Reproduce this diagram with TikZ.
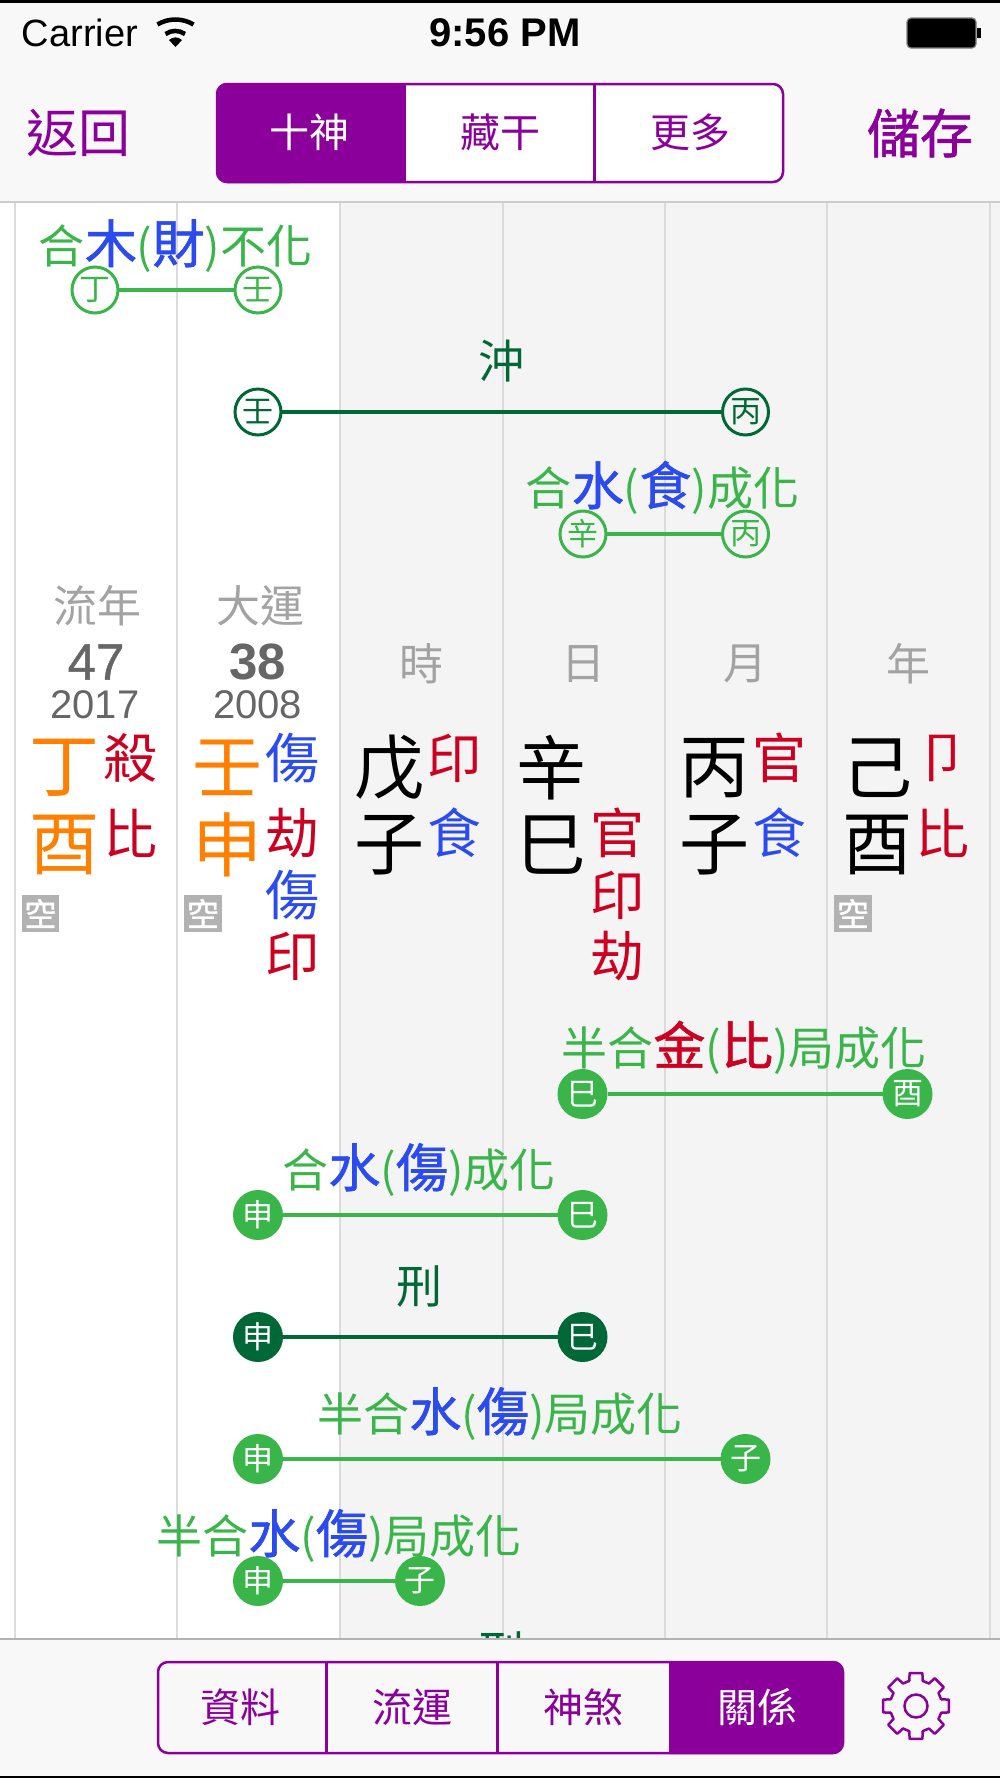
\documentclass[tikz,border=0pt]{standalone}
\usepackage{fontspec}
\setmainfont{Noto Sans CJK TC}
\newfontfamily\heavy[FakeBold=1.2]{Noto Sans CJK TC}
\newfontfamily\latin{Liberation Sans}
\newfontfamily\latinmid[FakeBold=0.9]{Liberation Sans}
\definecolor{purp}{HTML}{8B009B}
\definecolor{grn}{HTML}{39B54A}
\definecolor{dgrn}{HTML}{006837}
\definecolor{blu}{HTML}{2B4BEE}
\definecolor{rd}{HTML}{CC0020}
\definecolor{orng}{HTML}{FF8000}
\definecolor{barbg}{HTML}{F8F8F8}
\definecolor{colbg}{HTML}{F4F4F4}
\newcommand{\bigc}[2]{\textcolor{#1}{\heavy\fontsize{52}{52}\selectfont #2}}
\tikzset{
	every node/.style={inner sep=0pt,outer sep=0pt},
	open/.style={circle,draw=#1,line width=3pt,minimum size=46pt,text=#1,font=\fontsize{31}{31}\selectfont},
	full/.style={circle,fill=#1,minimum size=50pt,text=white,font=\fontsize{31}{31}\selectfont},
	rel/.style={anchor=base,text=#1,font=\fontsize{46}{46}\selectfont},
	link/.style={draw=#1,line width=3.2pt},
	head/.style={text=gray!72,font=\fontsize{44}{44}\selectfont},
	big/.style={text=#1,font=\fontsize{70}{70}\selectfont},
	big/.default=black,
	small/.style={text=#1,font=\fontsize{54}{54}\selectfont},
	kong/.style={fill=black!30,text=white,minimum size=37.5pt,font=\heavy\fontsize{32}{32}\selectfont},
	tabtxt/.style={text=#1,font=\fontsize{40}{40}\selectfont}
}
\begin{document}
\begin{tikzpicture}[x=1.0pt,y=-1.0pt,scale=1]
	\useasboundingbox (0,0) rectangle (1000,1778);
	\fill[white] (0,0) rectangle (1000,1778);
	\fill[colbg] (340,203) rectangle (1000,1640);
	\foreach \x in {15,177,340,502.5,664.5,827,990}
		\draw[black!14,line width=2pt] (\x,203) -- (\x,1640);

	\node[rel=grn] (relA) at (175.5,263) {合\bigc{blu}{木}(\bigc{blu}{財})不化};
	\node[open=grn] (dingA) at (95,290) {丁};
	\node[open=grn] (renA) at (258,290) {壬};
	\draw[link=grn] (dingA) -- (renA);

	\node[rel=dgrn] (relB) at (501,378) {沖};
	\node[open=dgrn] (renB) at (258,412) {壬};
	\node[open=dgrn] (bingB) at (745.5,412) {丙};
	\draw[link=dgrn] (renB) -- (bingB);

	\node[rel=grn] (relC) at (662.5,505) {合\bigc{blu}{水}(\bigc{blu}{食})成化};
	\node[open=grn] (xinC) at (583,534) {辛};
	\node[open=grn] (bingC) at (745.5,534) {丙};
	\draw[link=grn] (xinC) -- (bingC);

	\node[head] (headA) at (97.5,606) {流年};
	\node[head] (headB) at (260,606) {大運};
	\node[head] (headC) at (421,664) {時};
	\node[head] (headD) at (583,664) {日};
	\node[head] (headE) at (745,664) {月};
	\node[head] (headF) at (908,664) {年};
	\node[text=black!60,font=\latinmid\fontsize{51}{51}\selectfont] (ageA) at (96,662) {47};
	\node[text=black!60,font=\latin\bfseries\fontsize{51}{51}\selectfont] (ageB) at (257.5,662) {38};
	\node[text=black!60,font=\latin\fontsize{40}{40}\selectfont] (yearA) at (95,705) {2017};
	\node[text=black!60,font=\latin\fontsize{40}{40}\selectfont] (yearB) at (257.5,705) {2008};

	\node[big=orng] (ganA) at (64,768) {丁};
	\node[big=orng] (zhiA) at (64,845) {酉};
	\node[big=orng] (ganB) at (227,768) {壬};
	\node[big=orng] (zhiB) at (227,845) {申};
	\node[big] (ganC) at (389,768) {戊};
	\node[big] (zhiC) at (389,845) {子};
	\node[big] (ganD) at (551.5,768) {辛};
	\node[big] (zhiD) at (551.5,845) {巳};
	\node[big] (ganE) at (714,768) {丙};
	\node[big] (zhiE) at (714,845) {子};
	\node[big] (ganF) at (877,768) {己};
	\node[big] (zhiF) at (877,845) {酉};

	\node[small=rd] (shenA) at (130,758) {殺};
	\node[small=rd] (cangA) at (130,833) {比};
	\node[small=blu] (shenB) at (292,758) {傷};
	\node[small=rd] (cangB) at (292,833) {劫};
	\node[small=blu] (cangBb) at (292,895) {傷};
	\node[small=rd] (cangBc) at (292,956) {印};
	\node[small=rd] (shenC) at (454,758) {印};
	\node[small=blu] (cangC) at (454,833) {食};
	\node[small=rd] (cangD) at (617,833) {官};
	\node[small=rd] (cangDb) at (617,895) {印};
	\node[small=rd] (cangDc) at (617,956) {劫};
	\node[small=rd] (shenE) at (779,758) {官};
	\node[small=blu] (cangE) at (779,833) {食};
	\node[small=rd] (shenF) at (942,758) {卩};
	\node[small=rd] (cangF) at (942,833) {比};

	\node[kong] (kongA) at (40.5,913.5) {空};
	\node[kong] (kongB) at (203,913.5) {空};
	\node[kong] (kongC) at (853,913.5) {空};

	\node[rel=grn] (relD) at (744,1065) {半合\bigc{rd}{金}(\bigc{rd}{比})局成化};
	\node[full=grn] (siD) at (582.5,1094) {巳};
	\node[full=grn] (youD) at (907.5,1094) {酉};
	\draw[link=grn] (siD) -- (youD);

	\node[rel=grn] (relE) at (419,1187) {合\bigc{blu}{水}(\bigc{blu}{傷})成化};
	\node[full=grn] (shenG) at (258,1215) {申};
	\node[full=grn] (siE) at (582.5,1215) {巳};
	\draw[link=grn] (shenG) -- (siE);

	\node[rel=dgrn] (relF) at (419,1303) {刑};
	\node[full=dgrn] (shenH) at (258,1337) {申};
	\node[full=dgrn] (siF) at (582.5,1337) {巳};
	\draw[link=dgrn] (shenH) -- (siF);

	\node[rel=grn] (relG) at (500,1431) {半合\bigc{blu}{水}(\bigc{blu}{傷})局成化};
	\node[full=grn] (shenJ) at (258,1459) {申};
	\node[full=grn] (ziG) at (745.5,1459) {子};
	\draw[link=grn] (shenJ) -- (ziG);

	\node[rel=grn] (relH) at (339,1553) {半合\bigc{blu}{水}(\bigc{blu}{傷})局成化};
	\node[full=grn] (shenK) at (258,1581) {申};
	\node[full=grn] (ziH) at (420,1581) {子};
	\draw[link=grn] (shenK) -- (ziH);

	\node[rel=dgrn] (relJ) at (501,1669) {刑};

	\fill[barbg] (0,0) rectangle (1000,202);
	\fill[barbg] (0,1639) rectangle (1000,1778);
	\draw[black!20,line width=2pt] (0,202) -- (1000,202);
	\draw[black!30,line width=2pt] (0,1639) -- (1000,1639);
	\fill[black] (0,0) rectangle (1000,2.5);
	\fill[black] (0,1775.5) rectangle (1000,1778);

	\node[font=\latin\fontsize{38}{38}\selectfont] (carrier) at (80,33) {Carrier};
	\node[font=\latin\bfseries\fontsize{40}{40}\selectfont] (clock) at (505,33) {9:56 PM};
	\draw[line width=4.5pt] (193.5,24.5) arc[start angle=59,end angle=121,radius=35pt];
	\draw[line width=4.5pt] (185,34) arc[start angle=55,end angle=125,radius=17pt];
	\fill (175.5,47) -- (182,40) .. controls (178,36.5) and (173,36.5) .. (169,40) -- cycle;
	\draw[fill=black,draw=gray,line width=1.2pt,rounded corners=4pt] (907,18) rectangle (976,48);
	\fill (977,28) rectangle (981,38);

	\node[text=purp,font=\fontsize{52}{52}\selectfont] (back) at (79,133) {返回};
	\node[text=purp,font=\heavy\fontsize{53}{53}\selectfont] (save) at (920,133) {儲存};
	\fill[white,rounded corners=10pt] (217,83) rectangle (783,183);
	\fill[purp,rounded corners=10pt] (217,83) rectangle (300,183);
	\fill[purp] (260,83) rectangle (406,183);
	\draw[purp,line width=2.5pt,rounded corners=10pt] (217,84) rectangle (783,182);
	\draw[purp,line width=2.5pt] (594.5,83) -- (594.5,183);
	\node[tabtxt=white] (tabA) at (309,132) {十神};
	\node[tabtxt=purp] (tabB) at (500,132) {藏干};
	\node[tabtxt=purp] (tabC) at (690,132) {更多};

	\fill[purp] (669,1661) [rounded corners=10pt] -- (843,1661) -- (843,1754) [sharp corners] -- (669,1754) -- cycle;
	\draw[purp,line width=2.5pt,rounded corners=10pt] (158,1662) rectangle (843,1753);
	\draw[purp,line width=2.5pt] (326.5,1661) -- (326.5,1754);
	\draw[purp,line width=2.5pt] (497.5,1661) -- (497.5,1754);
	\node[tabtxt=purp] (botA) at (240,1707) {資料};
	\node[tabtxt=purp] (botB) at (412,1707) {流運};
	\node[tabtxt=purp] (botC) at (583,1707) {神煞};
	\node[tabtxt=white] (botD) at (757,1707) {關係};

	\foreach \a in {0,45,...,315}
		\draw[purp,line width=2.5pt,line join=round,line cap=round,shift={(916,1706)}] (\a-15:26) -- (\a-11:33.5) -- (\a+11:33.5) -- (\a+15:26) -- (\a+30:26);
	\draw[purp,line width=2.5pt] (916,1706) circle (11.5pt);
\end{tikzpicture}
\end{document}
